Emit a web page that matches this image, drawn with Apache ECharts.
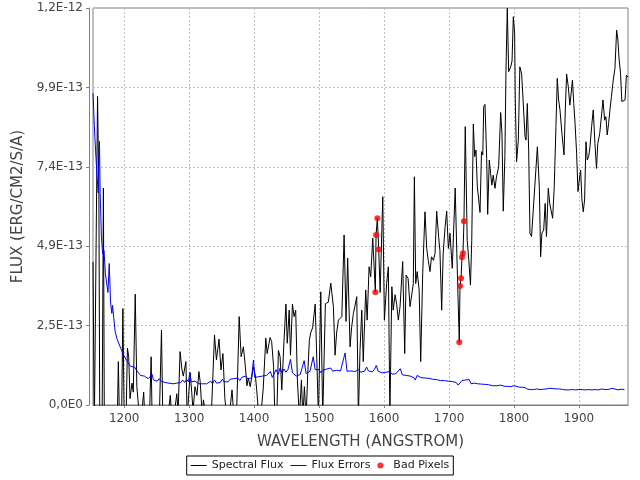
<!DOCTYPE html>
<html>
<head>
<meta charset="utf-8">
<script src="https://cdn.jsdelivr.net/npm/echarts@6/dist/echarts.min.js"></script>
<style>html,body{margin:0;padding:0;background:#fff}#c{width:640px;height:480px}</style>
</head>
<body>
<div id="c"></div>
<script>
// Flux values are in units of 1E-13 ERG/CM2/S/A
const fluxWave = [1152,1154,1157,1159,1161,1162.5,1166,1168,1169.5,1172,1180,1189,1191,1193,1196,1198,1200,1203,1205,1207,1209,1212,1214,1217,1219.5,1222,1224,1227,1230,1232,1236,1239,1241.5,1243,1247,1250,1254,1257.4,1259.5,1263,1267,1271,1273,1277,1281,1283,1286,1289,1291,1295,1297,1299,1301.5,1304,1306,1309,1312,1315,1317,1320,1322,1326,1330,1334,1339,1342,1346,1349,1352,1355,1358,1362,1366,1369,1373,1377,1380,1383.5,1386,1389,1391,1394,1399,1402,1404,1407,1410,1414,1418,1420,1424.6,1427,1430,1432,1435,1437.4,1440,1442.6,1446,1449,1451,1454,1456,1459,1461.5,1464,1466.6,1469.7,1472.8,1475,1477.4,1480,1482.6,1485,1487,1490,1494,1496.4,1499,1502.6,1505.6,1509.7,1512,1514.3,1518,1522,1524.6,1527,1529.7,1532,1535,1538.5,1541.5,1544,1547.7,1550,1552.8,1555,1558,1560.5,1563,1565.7,1568,1571.8,1574,1577,1579.5,1582.6,1586.6,1587.7,1589.7,1591.8,1594,1598,1600.5,1604,1606.6,1609,1612,1614,1617,1619.5,1622,1624.6,1628.7,1631.8,1634,1637,1640,1642.6,1645,1646.7,1648.7,1651,1654,1656.4,1659.5,1663,1665.7,1668,1670.8,1673,1676,1678.5,1681,1684,1686,1688.7,1691,1694,1696.4,1699,1701.5,1705,1709.5,1712,1714,1715.8,1716.9,1718.5,1720,1721.5,1723,1725,1728,1730.5,1733,1735,1737.4,1739.5,1741.5,1743.6,1745.7,1747.7,1750,1752,1753.4,1755.4,1758,1759.5,1762,1764,1766,1768,1770.8,1773,1776.4,1779.5,1781.5,1783.5,1786,1787.7,1789.7,1791.8,1795,1797,1799,1801,1802,1804,1806.7,1809,1811.8,1814,1817,1818.5,1820.5,1822.6,1824.6,1827,1829.7,1832,1836,1839,1841,1843,1845.7,1848,1850,1852.8,1855,1857,1859.5,1862,1864.6,1866.6,1868.7,1870.8,1873.8,1877,1879,1881,1883.6,1886,1888,1890,1892,1894,1896.4,1898.5,1900.5,1902.6,1904.6,1906.6,1908.7,1910.8,1912.8,1915,1917,1919.5,1922,1924.6,1927,1929,1932,1935,1937,1939.5,1941.5,1943.5,1945.7,1947.7,1950,1952.8,1955.4,1958,1960,1961.5,1964,1966,1969,1971,1973,1975.8];
const fluxValue = [4.45,-0.8,-0.8,9.6,6.7,-0.8,-0.8,6.75,-0.8,-1,-1,-1,1.35,-0.8,-0.5,3.0,-0.5,-0.3,1.77,1.5,0.2,0.68,0.4,3.45,0.57,0.57,-0.5,-0.3,0.4,-0.5,-0.5,-0.3,1.5,-0.5,-0.5,-0.6,-0.5,2.33,-0.5,-0.5,-0.4,0.3,-0.3,-0.3,0.35,-0.2,1.66,1.09,0.9,1.35,-0.4,-0.4,1.0,0.4,-0.2,0.57,0.3,1.04,0.73,-0.3,0.16,-0.4,-0.3,-0.4,2.18,1.4,2.05,1.09,1.6,0.2,-0.4,-0.3,0.47,-0.4,-0.3,2.75,1.5,1.81,1.3,0.6,0.84,0.57,1.19,0.9,0.47,-0.3,-0.4,0.5,2.08,1.6,2.1,1.97,1.19,-0.4,-0.3,1.7,1.5,0.47,2.0,3.14,1.92,2.95,1.55,3.14,2.75,2.95,0.78,-0.4,0.78,-0.4,0.57,-0.4,0.99,2.0,2.24,2.4,3.14,1.5,-0.4,3.52,-0.4,3.15,3.1,3.2,3.79,3.06,1.55,2.24,2.64,2.7,2.75,5.29,2.6,4.57,1.81,2.4,2.85,3.06,3.37,-0.4,1.7,2.95,1.35,3.58,2.64,4.3,3.99,5.19,3.51,5.29,5.81,4.84,3.5,6.48,2.64,3.78,4.3,-0.3,3.68,2.95,3.43,3.12,2.64,3.06,4.46,1.6,4.04,3.94,3.06,3.42,3.78,7.1,3.78,4.15,3.58,1.35,4.1,6.01,4.87,4.5,4.15,4.61,4.5,4.72,6.03,5.24,4.81,2.95,4.7,5.55,6.03,4.87,5.34,4.25,6.75,4.72,3.27,1.95,3.70,3.94,4.60,4.72,5.72,8.66,5.12,4.5,3.73,5.12,8.74,7.73,7.93,6.79,6.38,5.99,7.88,7.78,9.28,9.35,7.67,5.93,7.62,7.2,6.84,7.15,6.74,7.09,7.41,9.1,8.45,6.03,7.73,10.42,12.34,10.37,10.52,10.7,12.08,11.56,9.49,7.57,8.24,10.52,10.3,9.49,8.35,8.24,9.38,7.93,5.34,5.24,6.07,6.79,8.03,6.79,4.61,5.35,5.44,6.27,5.24,6.74,6.27,6.22,5.81,6.79,8.66,10.16,9.49,9.18,8.45,7.78,9.18,10.3,9.9,9.33,9.7,10.11,9.38,8.76,7.83,6.64,7.0,7.31,6.38,6.01,6.38,8.19,7.62,7.73,8.03,8.66,9.18,8.14,7.36,8.14,8.45,9.07,9.49,8.86,8.97,8.4,8.76,9.18,9.59,10.11,10.47,11.66,11.35,10.83,10.32,9.44,9.38,9.49,10.26,10.2];

const errWave = [1152,1154,1156,1158,1160,1162,1163,1165,1167,1169,1171,1173,1175,1177,1179,1181,1182,1184,1186,1189,1192,1195,1198,1201,1204,1207,1210,1213,1216,1219,1222,1225,1228,1231,1234,1237,1240,1243,1245,1248,1251,1254,1257,1260,1263,1266,1269,1272,1275,1278,1281,1284,1287,1290,1293,1296,1299,1301,1303,1306,1309,1312,1315,1318,1321,1324,1327,1330,1333,1336,1339,1342,1345,1348,1351,1354,1357,1360,1363,1366,1369,1372,1375,1378,1381,1384,1387,1390,1393,1396,1399,1401,1404,1407,1410,1413,1416,1419,1422,1425,1428,1431,1434,1437,1440,1443,1446,1449,1452,1456,1459,1462,1465,1468,1471,1474,1477,1480,1483,1486,1489,1491,1494,1497,1500,1503,1506,1509,1512,1515,1518,1521,1524,1527,1530,1533,1536,1540,1543,1546,1549,1552,1555,1558,1561,1564,1567,1570,1573,1576,1579,1582,1585,1588,1591,1594,1597,1600,1603,1606,1609,1612,1615,1618,1621,1625,1628,1631,1634,1637,1640,1643,1646,1648,1651,1654,1657,1660,1663,1666,1669,1672,1675,1678,1681,1684,1687,1690,1693,1696,1699,1702,1705,1708,1711,1714,1717,1720,1723,1726,1729,1731,1734,1737,1739,1741,1744,1747,1750,1753,1756,1758,1761,1764,1767,1770,1775,1779,1782,1786,1790,1795,1800,1803,1807,1810,1813,1817,1821,1825,1830,1835,1840,1845,1850,1855,1860,1865,1870,1875,1880,1885,1890,1895,1900,1905,1910,1915,1920,1925,1930,1935,1940,1945,1950,1955,1960,1965,1970,1975];
const errValue = [9.7,8.7,7.9,7.2,6.6,8.2,6.6,5.2,4.7,4.8,4.1,3.8,3.5,4.4,3.2,2.85,3.1,2.7,2.3,2.05,1.9,1.75,1.6,1.48,1.38,1.28,1.2,1.15,1.18,1.08,1.0,0.92,0.87,0.9,0.92,0.82,0.8,0.95,0.78,0.82,0.74,0.82,0.74,0.76,0.7,0.74,0.68,0.72,0.66,0.7,0.68,0.74,0.7,0.78,0.7,0.8,0.72,1.02,0.72,0.68,0.74,0.68,0.66,0.7,0.66,0.72,0.66,0.68,0.74,0.66,0.78,0.68,0.74,0.7,0.8,0.72,0.76,0.72,0.8,0.74,0.82,0.78,0.84,0.76,0.86,0.8,0.9,0.82,0.88,0.84,1.4,0.86,0.84,0.88,0.84,0.9,0.86,0.92,0.95,1.04,0.86,0.84,1.1,0.95,1.15,1.0,1.12,1.02,1.1,1.42,1.0,0.95,0.9,0.92,0.95,0.9,1.38,0.98,0.95,1.05,1.0,1.5,1.1,1.05,1.1,1.0,1.08,1.05,1.12,1.06,1.15,1.05,1.1,1.08,1.12,1.06,1.1,1.62,1.05,1.1,1.06,1.12,1.04,1.06,1.1,1.02,1.08,1.05,1.18,1.06,1.12,1.03,1.1,1.23,1.05,1.1,1.0,1.06,1.02,0.98,1.04,0.96,1.0,0.97,1.02,1.13,0.94,0.97,0.92,0.96,0.9,0.94,0.85,0.78,0.92,0.88,0.85,0.89,0.84,0.87,0.83,0.85,0.8,0.82,0.79,0.8,0.76,0.78,0.76,0.8,0.74,0.76,0.73,0.74,0.7,0.62,0.66,0.76,0.72,0.78,0.75,0.79,0.66,0.72,0.68,0.64,0.66,0.7,0.65,0.68,0.64,0.62,0.63,0.62,0.6,0.61,0.6,0.62,0.58,0.58,0.58,0.57,0.6,0.56,0.56,0.57,0.55,0.54,0.49,0.48,0.48,0.5,0.48,0.49,0.5,0.52,0.51,0.5,0.5,0.48,0.47,0.47,0.48,0.47,0.48,0.48,0.47,0.48,0.47,0.48,0.47,0.5,0.48,0.48,0.52,0.5,0.47,0.49,0.48];

const badWave = [1586.6,1587.7,1589.7,1591.8,1715.8,1716.9,1718.5,1720,1721.5,1723];
const badValue = [3.51,5.29,5.81,4.84,1.95,3.70,3.94,4.60,4.72,5.72];

const xRange = [1152, 1975.5];
const yMax = 12.35, yStep = 2.47;  // 1E-13 units

function pairs(xs, ys) { return xs.map((x, i) => [x, ys[i]]); }
function sciLabel(v) {
  if (Math.abs(v) < 1e-9) return '0,0E0';
  const val = v * 1e-13;
  let e = Math.floor(Math.log10(val));
  let m = val / Math.pow(10, e);
  let s = m.toFixed(1);
  if (s === '10.0') { e += 1; s = '1.0'; }
  return s.replace('.', ',') + 'E' + e;
}
// thin horizontal stripe icon spanning the full legend item box
const lineIcon = 'path://M0,0L0.01,0L0.01,0.01L0,0.01ZM0,2.5L16,2.5L16,3.5L0,3.5ZM15.99,5.99L16,5.99L16,6L15.99,6Z';

const chart = echarts.init(document.getElementById('c'), null, {renderer: 'canvas'});
const font = 'DejaVu Sans';
chart.setOption({
  animation: false,
  backgroundColor: '#ffffff',
  grid: {left: 93, right: 12, top: 8, bottom: 75, show: true, borderColor: '#808080', borderWidth: 1, backgroundColor: '#ffffff'},
  legend: {
    top: 456, left: 'center',
    borderColor: '#000', borderWidth: 1, padding: [4, 4, 4, 4],
    itemWidth: 16, itemHeight: 6, itemGap: 7,
    textStyle: {fontFamily: font, fontSize: 11, color: '#222'},
    data: [
      {name: 'Spectral Flux', icon: lineIcon, itemStyle: {color: '#000000'}},
      {name: 'Flux Errors', icon: lineIcon, itemStyle: {color: '#0000ff'}},
      {name: 'Bad Pixels', icon: 'circle', itemStyle: {color: '#ff0000'}}
    ]
  },
  xAxis: {
    type: 'value', min: xRange[0], max: xRange[1], splitNumber: 8, offset: 3,
    name: 'WAVELENGTH (ANGSTROM)', nameLocation: 'middle', nameGap: 27,
    nameTextStyle: {fontFamily: font, fontSize: 15, color: '#444'},
    axisLine: {show: true, lineStyle: {color: '#808080'}},
    axisTick: {show: true, length: 3, lineStyle: {color: '#808080'}},
    axisLabel: {fontFamily: font, fontSize: 12, color: '#444', margin: 5, showMinLabel: false, showMaxLabel: false,
      formatter: v => String(Math.round(v))},
    splitLine: {show: true, lineStyle: {color: '#c0c0c0', type: [2, 2], width: 1}}
  },
  yAxis: {
    type: 'value', min: 0, max: yMax, interval: yStep, offset: 4,
    name: 'FLUX (ERG/CM2/S/A)', nameLocation: 'middle', nameGap: 61,
    nameTextStyle: {fontFamily: font, fontSize: 15, color: '#444'},
    axisLine: {show: true, lineStyle: {color: '#808080'}},
    axisTick: {show: true, length: 3, lineStyle: {color: '#808080'}},
    axisLabel: {fontFamily: font, fontSize: 12, color: '#444', margin: 6, formatter: sciLabel},
    splitLine: {show: true, lineStyle: {color: '#c0c0c0', type: [2, 2], width: 1}}
  },
  series: [
    {name: 'Spectral Flux', type: 'line', data: pairs(fluxWave, fluxValue), symbol: 'none', showSymbol: false, clip: true,
     lineStyle: {color: '#000000', width: 1}, itemStyle: {color: '#000000'}},
    {name: 'Flux Errors', type: 'line', data: pairs(errWave, errValue), symbol: 'none', showSymbol: false, clip: true,
     lineStyle: {color: '#0000ff', width: 1}, itemStyle: {color: '#0000ff'}},
    {name: 'Bad Pixels', type: 'scatter', data: pairs(badWave, badValue), symbol: 'circle', symbolSize: 6,
     itemStyle: {color: '#ff0000'}, z: 5}
  ]
});
</script>
</body>
</html>
